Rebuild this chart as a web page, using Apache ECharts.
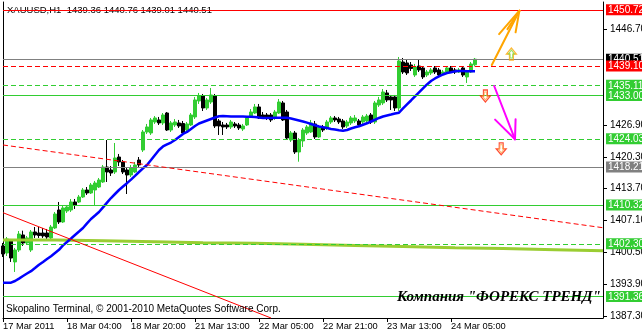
<!DOCTYPE html>
<html><head><meta charset="utf-8">
<script src="https://cdn.jsdelivr.net/npm/echarts@6/dist/echarts.min.js"></script>
<style>html,body{margin:0;padding:0;background:#fff;overflow:hidden}#c{width:642px;height:336px}</style>
</head><body><div id="c"></div>
<script>
// ---------- data ----------
const symbolName = 'XAUUSD,H1';
const timeTickIdx = [0, 16, 32, 48, 64, 80, 96, 112];
const timeLabels = ['17 Mar 2011', '18 Mar 04:00', '18 Mar 20:00', '21 Mar 13:00', '22 Mar 05:00', '22 Mar 21:00', '23 Mar 13:00', '24 Mar 05:00'];
const priceTicks = [1387.30, 1393.90, 1400.50, 1407.10, 1413.70, 1420.30, 1426.90, 1446.70];

const opens = [1401.84,1400.39,1402.87,1398.53,1401.01,1404.12,1402.46,1401.01,1404.74,1404.53,
1404.53,1404.53,1403.50,1405.57,1409.29,1406.81,1409.08,1409.29,1410.95,1410.95,
1411.98,1413.43,1412.81,1413.43,1414.05,1415.09,1418.19,1417.57,1417.16,1420.26,
1419.23,1417.57,1416.54,1417.16,1419.64,1421.71,1425.44,1425.23,1427.51,1427.93,
1427.31,1429.37,1425.85,1426.89,1427.31,1427.20,1425.85,1426.89,1428.55,1431.86,
1432.89,1430.41,1431.65,1432.89,1427.72,1426.89,1426.89,1426.48,1427.10,1426.89,
1426.06,1426.89,1428.55,1429.37,1430.62,1428.96,1428.96,1428.96,1428.34,1429.37,
1431.45,1429.58,1423.78,1425.23,1421.30,1423.58,1425.23,1425.44,1427.10,1424.41,
1426.48,1426.27,1427.51,1428.34,1428.13,1427.72,1426.68,1427.31,1427.72,1427.72,
1427.51,1427.72,1428.96,1427.51,1431.03,1431.45,1433.52,1432.69,1432.69,1430.41,
1439.93,1439.73,1439.31,1437.24,1439.10,1438.69,1437.24,1437.66,1438.69,1438.28,
1437.55,1437.86,1438.69,1438.28,1437.86,1438.69,1436.83,1437.86,1439.36];
const highs = [1402.46,1403.70,1403.29,1401.43,1404.94,1405.01,1403.91,1405.15,1405.77,1405.77,
1405.57,1405.36,1406.19,1408.88,1410.95,1410.12,1410.33,1411.57,1411.57,1412.40,
1413.85,1414.05,1414.88,1415.30,1415.92,1418.61,1423.78,1418.40,1423.16,1420.89,
1419.64,1417.99,1418.61,1419.23,1420.26,1425.85,1427.10,1428.34,1428.75,1428.55,
1429.37,1429.58,1427.72,1428.13,1427.93,1427.72,1427.51,1429.37,1432.69,1433.52,
1433.31,1432.48,1434.55,1433.31,1428.13,1427.51,1427.31,1427.93,1427.51,1427.31,
1427.10,1428.75,1430.20,1431.24,1431.24,1429.58,1429.37,1429.37,1430.00,1432.27,
1431.86,1430.00,1425.65,1425.65,1424.20,1426.27,1426.89,1427.93,1427.72,1426.89,
1426.89,1427.93,1428.75,1428.75,1428.55,1428.13,1427.93,1428.75,1428.96,1428.13,
1428.96,1429.17,1429.37,1431.86,1432.69,1434.34,1434.14,1433.10,1433.10,1440.97,
1440.76,1440.35,1439.93,1439.52,1440.35,1439.10,1438.28,1438.69,1439.10,1438.69,
1438.28,1439.10,1439.10,1438.69,1438.69,1439.10,1438.28,1439.93,1440.76];
const lows = [1399.56,1399.77,1398.53,1396.46,1400.60,1401.84,1402.05,1400.60,1403.50,1403.50,
1403.50,1403.29,1403.08,1405.36,1406.39,1406.60,1408.67,1408.88,1409.50,1410.74,
1411.78,1412.40,1412.60,1410.33,1413.85,1414.88,1415.09,1416.33,1416.74,1418.40,
1416.74,1412.60,1416.12,1416.95,1418.19,1421.30,1425.03,1424.82,1427.10,1426.89,
1426.89,1425.65,1425.44,1426.48,1426.27,1424.82,1425.44,1426.68,1428.13,1431.24,
1429.79,1430.00,1431.24,1426.27,1424.82,1424.82,1426.06,1426.06,1426.27,1425.85,
1425.65,1426.68,1428.34,1429.17,1428.13,1428.13,1427.93,1427.51,1427.93,1429.17,
1427.72,1423.78,1423.37,1420.89,1419.29,1422.34,1424.82,1425.23,1423.99,1424.20,
1425.44,1425.85,1427.10,1427.51,1427.10,1426.06,1426.27,1426.89,1427.31,1426.48,
1427.10,1427.31,1427.10,1427.10,1430.62,1431.03,1431.65,1430.00,1429.79,1429.79,
1437.45,1437.24,1438.07,1436.83,1437.86,1436.41,1436.83,1437.24,1437.45,1436.83,
1437.24,1437.45,1437.66,1437.45,1437.66,1436.83,1435.59,1437.66,1439.01];
const closes = [1400.18,1403.29,1399.35,1401.01,1404.32,1402.46,1403.50,1404.74,1404.12,1404.01,
1403.91,1403.70,1405.77,1408.46,1406.81,1409.71,1409.91,1410.95,1410.33,1411.98,
1413.43,1412.81,1414.47,1414.88,1415.50,1418.19,1417.16,1416.95,1420.06,1419.23,
1417.16,1416.54,1417.99,1418.61,1418.61,1425.44,1426.48,1427.93,1428.34,1427.31,
1428.96,1425.85,1427.31,1427.51,1426.68,1425.23,1427.10,1428.96,1432.07,1432.89,
1430.41,1432.07,1433.10,1426.68,1426.68,1426.48,1426.48,1427.51,1426.68,1426.27,
1426.68,1428.34,1429.58,1430.62,1428.34,1428.55,1428.55,1427.93,1429.58,1431.65,
1427.93,1424.20,1425.23,1421.30,1423.78,1425.85,1426.48,1427.31,1424.41,1426.48,
1425.85,1427.51,1428.34,1427.93,1427.51,1426.48,1427.51,1428.34,1428.34,1426.89,
1428.55,1428.75,1427.51,1431.45,1432.07,1433.72,1432.07,1432.07,1430.41,1440.14,
1437.86,1437.66,1438.59,1438.90,1438.28,1436.83,1437.86,1438.28,1437.86,1437.24,
1437.86,1438.69,1437.86,1437.86,1438.28,1437.24,1437.86,1439.52,1440.51];

const maValues = [1394.24,1394.24,1394.24,1394.59,1395.09,1395.63,1396.14,1396.62,1397.28,1397.95,
1398.53,1399.13,1399.73,1400.39,1401.05,1401.96,1402.67,1403.39,1404.12,1404.84,
1405.57,1406.52,1407.43,1408.15,1408.88,1409.83,1410.82,1411.77,1412.60,1413.43,
1414.14,1414.84,1415.59,1416.37,1417.16,1417.92,1418.61,1419.64,1420.68,1421.71,
1422.44,1422.86,1423.25,1423.79,1424.41,1425.03,1425.44,1426.06,1426.68,1427.20,
1427.51,1427.82,1428.13,1428.44,1428.69,1428.75,1428.71,1428.67,1428.65,1428.63,
1428.63,1428.61,1428.59,1428.55,1428.44,1428.34,1428.34,1428.36,1428.38,1428.40,
1428.40,1428.40,1428.24,1428.03,1427.82,1427.61,1427.37,1427.10,1426.83,1426.58,
1426.41,1426.27,1426.06,1425.94,1425.81,1425.71,1425.86,1426.17,1426.43,1426.62,
1426.93,1427.24,1427.61,1427.97,1428.34,1428.65,1428.86,1429.06,1429.27,1429.44,
1430.31,1431.14,1431.96,1432.79,1433.62,1434.45,1435.28,1436.00,1436.52,1436.93,
1437.35,1437.66,1437.82,1437.99,1438.07,1438.07,1438.03,1438.01,1438.01];

const slowMaX = [0, 13, 25, 38, 50, 63, 75, 88, 100, 113, 125, 138, 150];
const slowMaY = [1403.08, 1402.92, 1402.73, 1402.52, 1402.40, 1402.19, 1401.94, 1401.73, 1401.48, 1401.32, 1401.07, 1400.86, 1400.86];

const levelPrices = [1450.72, 1440.51, 1439.10, 1435.11, 1433.00, 1424.03, 1418.21, 1410.32, 1402.30, 1391.36];
const levelKinds  = ['red', 'bid', 'redDash', 'greenDash', 'green', 'greenDash', 'gray', 'green', 'greenDash', 'green'];

const trendSolid  = [[0, 1408.73], [67, 1386.93]];
const trendDashed = [[0, 1422.75], [150, 1405.62]];

const arrowFrom = [[122.2, 1439.31], [122.8, 1434.96]];
const arrowTo   = [[129.1, 1450.55], [128.0, 1423.93]];

const upMarks   = [[127.1, 1441.59]];
const downMarks = [[120.6, 1432.89], [124.55, 1421.96]];

// ---------- styles ----------
const C_GREEN = '#32cd32', C_RED = '#ff0000', C_GRAY = '#808080';
const lineKindStyle = {
  red:       { color: C_RED, width: 1, type: 'solid' },
  redDash:   { color: C_RED, width: 1, type: [5, 3] },
  bid:       { color: C_GRAY, width: 1, type: 'solid' },
  gray:      { color: C_GRAY, width: 1, type: 'solid' },
  green:     { color: C_GREEN, width: 1, type: 'solid' },
  greenDash: { color: C_GREEN, width: 1, type: [5, 3] }
};
const labelKindBg = { red: C_RED, redDash: C_RED, bid: '#000000', gray: C_GRAY, green: C_GREEN, greenDash: C_GREEN };
const arrowStyles = [
  { color: '#ffa500', heads: [{ ang: 14, len: 31 }, { ang: 6, len: 22 }, { ang: -17, len: 22 }] },
  { color: '#ff00ff', heads: [{ ang: -24, len: 28 }, { ang: 23, len: 20 }] }
];
const FONT = 'Liberation Sans';
const Y_MIN = 1386.93, Y_MAX = 1452.35;

const candleData = opens.map((o, i) => [i, o, closes[i], lows[i], highs[i]]);
const maData = maValues.map((v, i) => [i, v]);
const slowData = slowMaX.map((x, k) => [x, slowMaY[k]]);
const last = opens.length - 1;
const headerText = symbolName + '  ' + [opens[last], highs[last], lows[last], closes[last]].map(v => v.toFixed(2)).join(' ');

const rich = {};
Object.keys(labelKindBg).forEach(k => {
  rich[k] = { backgroundColor: labelKindBg[k], color: '#ffffff', fontSize: 10, fontFamily: FONT, lineHeight: 11, padding: [1, 8, 0, 2] };
});

const chart = echarts.init(document.getElementById('c'), null, { renderer: 'canvas' });
chart.setOption({
  animation: false,
  backgroundColor: '#ffffff',
  textStyle: { fontFamily: FONT },
  grid: { left: 3, right: 39, top: 2, bottom: 18, outerBoundsMode: 'none', containLabel: false },
  xAxis: {
    type: 'value', min: 0, max: 150,
    axisLine: { show: true, onZero: false, lineStyle: { color: '#000' } },
    axisTick: { show: true, customValues: timeTickIdx, length: 4, lineStyle: { color: '#000' } },
    axisLabel: { customValues: timeTickIdx, formatter: v => timeLabels[timeTickIdx.indexOf(v)] || '',
      align: 'left', color: '#000', fontSize: 9.3, fontFamily: FONT, margin: 4 },
    splitLine: { show: false }
  },
  yAxis: [
    { type: 'value', position: 'right', min: Y_MIN, max: Y_MAX,
      axisLine: { show: true, onZero: false, lineStyle: { color: '#000' } },
      axisTick: { show: true, customValues: priceTicks, length: 4, lineStyle: { color: '#000' } },
      axisLabel: { customValues: priceTicks, formatter: v => v.toFixed(2), color: '#000', fontSize: 10, fontFamily: FONT, margin: 7 },
      splitLine: { show: false } },
    { type: 'value', position: 'right', min: Y_MIN, max: Y_MAX,
      axisLine: { show: false }, axisTick: { show: false },
      axisLabel: { customValues: levelPrices, margin: 3, rich: rich,
        formatter: v => { const k = levelPrices.findIndex(p => Math.abs(p - v) < 1e-6); return '{' + levelKinds[k] + '|' + v.toFixed(2) + '}'; } },
      splitLine: { show: false } },
    { type: 'value', position: 'left', min: Y_MIN, max: Y_MAX,
      axisLine: { show: true, onZero: false, lineStyle: { color: '#000' } },
      axisTick: { show: false }, axisLabel: { show: false }, splitLine: { show: false } }
  ],
  series: [
    { type: 'line', name: 'levels', data: [], z: 1, silent: true,
      markLine: { silent: true, symbol: ['none', 'none'], label: { show: false }, animation: false,
        data: levelPrices.map((p, k) => ({ yAxis: p, lineStyle: lineKindStyle[levelKinds[k]] })).concat([
          [{ coord: trendSolid[0], lineStyle: { color: C_RED, width: 1, type: 'solid' } }, { coord: trendSolid[1] }],
          [{ coord: trendDashed[0], lineStyle: { color: C_RED, width: 1, type: [5, 3] } }, { coord: trendDashed[1] }]
        ]) } },
    { type: 'candlestick', name: 'XAUUSD', data: candleData, z: 3, barWidth: 3,
      itemStyle: { color: C_GREEN, color0: '#000000', borderColor: C_GREEN, borderColor0: '#000000', borderWidth: 1 } },
    { type: 'line', name: 'slowMA', data: slowData, step: 'end', showSymbol: false, z: 4,
      lineStyle: { color: '#9acd32', width: 3 } },
    { type: 'line', name: 'MA', data: maData, showSymbol: false, z: 4,
      lineStyle: { color: '#0000ff', width: 2.5 } },
    { type: 'custom', name: 'arrows', z: 5, encode: { x: [0, 2], y: [1, 3] },
      data: arrowFrom.map((f, k) => [f[0], f[1], arrowTo[k][0], arrowTo[k][1]]),
      renderItem: function (params, api) {
        const a = api.coord([api.value(0), api.value(1)]);
        const b = api.coord([api.value(2), api.value(3)]);
        const st = arrowStyles[params.dataIndex];
        const dx = a[0] - b[0], dy = a[1] - b[1], L = Math.hypot(dx, dy), ux = dx / L, uy = dy / L;
        const style = { stroke: st.color, lineWidth: 2, lineCap: 'round' };
        const children = [{ type: 'line', shape: { x1: a[0], y1: a[1], x2: b[0], y2: b[1] }, style: style }];
        st.heads.forEach(h => {
          const r = h.ang * Math.PI / 180;
          const vx = ux * Math.cos(r) - uy * Math.sin(r), vy = ux * Math.sin(r) + uy * Math.cos(r);
          children.push({ type: 'line', shape: { x1: b[0], y1: b[1], x2: b[0] + vx * h.len, y2: b[1] + vy * h.len }, style: style });
        });
        return { type: 'group', children: children };
      } },
    { type: 'scatter', name: 'up', data: upMarks, z: 6, symbol: 'path://M5,0 L10,6 L7,6 L7,12 L3,12 L3,6 L0,6 Z',
      symbolSize: [10, 12], itemStyle: { color: 'rgba(255,255,255,0)', borderColor: '#ffa500', borderWidth: 1.2 } },
    { type: 'scatter', name: 'upInner', data: upMarks, z: 6, symbol: 'path://M5,0 L10,6 L7,6 L7,12 L3,12 L3,6 L0,6 Z',
      symbolSize: [6, 8], itemStyle: { color: 'rgba(255,255,255,0)', borderColor: '#7fdd40', borderWidth: 1 } },
    { type: 'scatter', name: 'down', data: downMarks, z: 6, symbol: 'path://M3,0 L7,0 L7,6 L10,6 L5,12 L0,6 L3,6 Z',
      symbolSize: [10, 12], itemStyle: { color: 'rgba(255,255,255,0)', borderColor: '#ff2000', borderWidth: 1.2 } },
    { type: 'scatter', name: 'downInner', data: downMarks, z: 6, symbol: 'path://M3,0 L7,0 L7,6 L10,6 L5,12 L0,6 L3,6 Z',
      symbolSize: [6, 8], itemStyle: { color: 'rgba(255,255,255,0)', borderColor: '#ffa040', borderWidth: 1 } }
  ],
  graphic: [
    { type: 'text', left: 7, top: 5, z: 0, silent: true,
      style: { text: headerText, fill: '#000', font: '9.5px "Liberation Sans"' } },
    { type: 'text', left: 6, top: 304, z: 10, silent: true,
      style: { text: 'Skopalino Terminal, © 2001-2010 MetaQuotes Software Corp.', fill: '#000', font: '10px "Liberation Sans"' } },
    { type: 'text', left: 397, top: 290, z: 10, silent: true,
      style: { text: 'Компания "ФОРЕКС ТРЕНД"', fill: '#000', font: 'italic bold 15px "Liberation Serif"' } }
  ]
});
</script></body></html>
